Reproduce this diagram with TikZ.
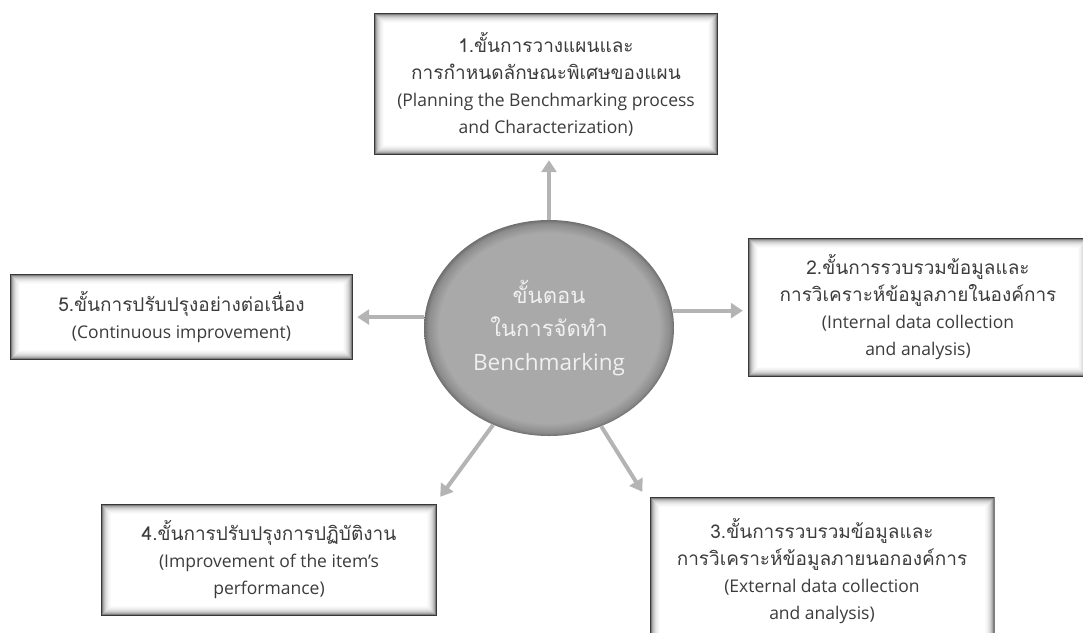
\documentclass[tikz,border=0pt]{standalone}
\usepackage{fontspec}
\setmainfont{Open Sans}
\newfontfamily\thaifont[Script=Thai]{Loma}
\usetikzlibrary{shapes.geometric,arrows.meta,calc}

\definecolor{txt}{HTML}{3C3C3C}
\definecolor{arrowgray}{HTML}{B4B4B4}
\definecolor{ellmid}{HTML}{A9A9A9}
\definecolor{ellrim}{HTML}{8C8C8C}
\definecolor{ellrim2}{HTML}{6E6E6E}

% soft inner rim of the central ellipse
\pgfdeclareradialshading{ellipsefill}{\pgfpoint{0bp}{0bp}}{%
  color(0bp)=(ellmid); color(22bp)=(ellmid); color(24.2bp)=(ellrim);
  color(25bp)=(ellrim2); color(50bp)=(ellrim2)}

\newcommand{\thline}[1]{{\thaifont\fontsize{19}{28}\selectfont #1}}
\newcommand{\thhub}[1]{{\thaifont\fontsize{22}{35}\selectfont #1}}

\tikzset{
  stepbox/.style={
    rectangle, fill=white, inner sep=0pt, align=center, text=txt,
    font=\fontsize{17.5}{27}\selectfont,
    path picture={
      \foreach \i/\o in {0/0.78,1/0.50,2/0.34,3/0.25,4/0.18,5/0.13,6/0.09,7/0.06,8/0.035,9/0.015}{
        \pgfmathsetmacro\d{\i+0.5}
        \draw[black, opacity=\o, line width=1pt]
          ([xshift=\d pt, yshift=-\d pt]path picture bounding box.north west)
          rectangle
          ([xshift=-\d pt, yshift=\d pt]path picture bounding box.south east);
      }
    }
  },
  hub/.style={
    ellipse, shade, shading=ellipsefill, inner sep=0pt, align=center,
    text=white!94!black, font=\fontsize{22.5}{34}\selectfont
  },
  link/.style={
    draw=arrowgray, line width=4pt,
    -{Triangle[length=12pt,width=15pt]}
  }
}

\begin{document}
\begin{tikzpicture}[x=1pt,y=-1pt]
  \useasboundingbox (0,0) rectangle (1083,632);

  % central hub
  \node[hub, minimum width=250pt, minimum height=216pt] (c) at (549,328)
    {\thhub{ขั้นตอน}\\[-1pt]
     \thhub{ในการจัดทำ}\\
     Benchmarking};

  % the five steps
  \node[stepbox, minimum width=344pt, minimum height=142pt] (b1) at (546,84)
    {\thline{1.ขั้นการวางแผนและ}\\
     \thline{การกำหนดลักษณะพิเศษของแผน}\\
     (Planning the Benchmarking process\\
     and Characterization)};

  \node[stepbox, minimum width=340pt, minimum height=139pt] (b2) at (918,307.5)
    {\thline{2.ขั้นการรวบรวมข้อมูลและ}\\
     \thline{การวิเคราะห์ข้อมูลภายในองค์การ}\\
     (Internal data collection\\
     and analysis)};

  \node[stepbox, minimum width=345pt, minimum height=148pt] (b3) at (822,571)
    {\thline{3.ขั้นการรวบรวมข้อมูลและ}\\
     \thline{การวิเคราะห์ข้อมูลภายนอกองค์การ}\\
     (External data collection\\
     and analysis)};

  \node[stepbox, minimum width=336pt, minimum height=112pt] (b4) at (269,560)
    {\thline{4.ขั้นการปรับปรุงการปฏิบัติงาน}\\
     (Improvement of the item’s\\
     performance)};

  \node[stepbox, minimum width=343pt, minimum height=86pt] (b5) at (181.5,317)
    {\thline{5.ขั้นการปรับปรุงอย่างต่อเนื่อง}\\
     (Continuous improvement)};

  % connectors from the hub
  \draw[link, shorten >=5pt] (c.north) -- (c.north |- b1.south);
  \draw[link, shorten >=5pt] (c.8) -- (b2.west |- c.8);
  \draw[link, shorten >=4pt] (c.175) -- (b5.east |- c.175);
  \coordinate (t4) at ($(b4.north east)+(3,-7)$);
  \coordinate (t3) at ($(b3.north west)+(-7,-5)$);
  \draw[link] (c.240) -- (t4);
  \draw[link] (c.298) -- (t3);
\end{tikzpicture}
\end{document}
